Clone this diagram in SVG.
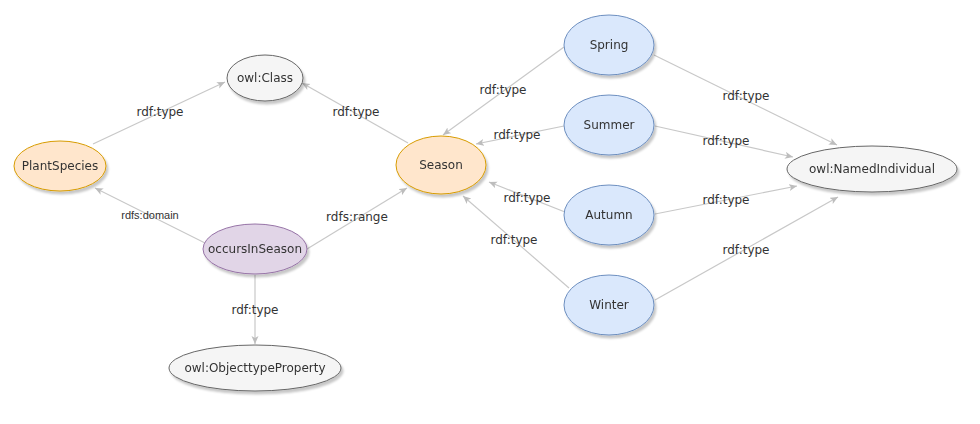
<svg xmlns="http://www.w3.org/2000/svg" width="980" height="424" viewBox="0 0 980 424">
<style>
  .lbl{font-family:"DejaVu Sans",Verdana,sans-serif;font-size:12px;fill:#333;text-anchor:middle}
  .sm{font-family:"Liberation Sans",Arial,sans-serif;font-size:11px;fill:#333;text-anchor:middle}
  .edge{stroke:#c8c8c8;stroke-width:1.2;fill:none;marker-end:url(#arr)}
  .owl{fill:#f5f5f5;stroke:#666;stroke-width:1}
  .cls{fill:#ffe6cc;stroke:#d79b00;stroke-width:1}
  .prop{fill:#e1d5e7;stroke:#9673a6;stroke-width:1}
  .ind{fill:#dae8fc;stroke:#6c8ebf;stroke-width:1}
  .node{filter:url(#sh)}
</style>
<defs>
  <marker id="arr" markerUnits="userSpaceOnUse" markerWidth="10" markerHeight="8" refX="8" refY="3.5" orient="auto">
    <path d="M0,0 L8,3.5 L0,7 L2,3.5 z" fill="#bdbdbd"/>
  </marker>
  <filter id="sh" x="-20%" y="-20%" width="150%" height="160%">
    <feDropShadow dx="2" dy="3" stdDeviation="1.2" flood-color="#000" flood-opacity="0.22"/>
  </filter>
</defs>
<rect width="980" height="424" fill="#fff"/>
<g id="connectors">
  <line class="edge" x1="93" y1="144" x2="225" y2="82"/>
  <line class="edge" x1="408" y1="143" x2="302" y2="83"/>
  <line class="edge" x1="205" y1="243" x2="95" y2="188"/>
  <line class="edge" x1="307" y1="249" x2="407" y2="188"/>
  <line class="edge" x1="255" y1="275" x2="255" y2="344"/>
  <line class="edge" x1="564" y1="47" x2="443" y2="135"/>
  <line class="edge" x1="564" y1="126" x2="476" y2="144"/>
  <line class="edge" x1="565" y1="212" x2="489" y2="182"/>
  <line class="edge" x1="569" y1="288" x2="463" y2="196"/>
  <line class="edge" x1="654" y1="55" x2="837" y2="145"/>
  <line class="edge" x1="655" y1="126" x2="793" y2="157"/>
  <line class="edge" x1="655" y1="214" x2="797" y2="186"/>
  <line class="edge" x1="655" y1="300" x2="838" y2="197"/>
  <text class="lbl" x="160" y="116">rdf:type</text>
  <text class="lbl" x="356" y="116">rdf:type</text>
  <text class="sm" x="150" y="219">rdfs:domain</text>
  <text class="lbl" x="357" y="221">rdfs:range</text>
  <text class="lbl" x="255" y="314">rdf:type</text>
  <text class="lbl" x="503" y="94">rdf:type</text>
  <text class="lbl" x="517" y="139">rdf:type</text>
  <text class="lbl" x="527" y="202">rdf:type</text>
  <text class="lbl" x="514" y="244">rdf:type</text>
  <text class="lbl" x="746" y="100">rdf:type</text>
  <text class="lbl" x="726" y="145">rdf:type</text>
  <text class="lbl" x="726" y="204">rdf:type</text>
  <text class="lbl" x="746" y="254">rdf:type</text>
</g>
<g id="owlClass" class="node"><ellipse class="owl" cx="265" cy="78" rx="38" ry="23"/><text class="lbl" x="265" y="82">owl:Class</text></g>
<g id="PlantSpecies" class="node"><ellipse class="cls" cx="60" cy="166" rx="46" ry="25"/><text class="lbl" x="60" y="170">PlantSpecies</text></g>
<g id="Season" class="node"><ellipse class="cls" cx="441" cy="165" rx="45" ry="29"/><text class="lbl" x="441" y="169">Season</text></g>
<g id="occursInSeason" class="node"><ellipse class="prop" cx="255" cy="249" rx="52" ry="25"/><text class="lbl" x="255" y="253">occursInSeason</text></g>
<g id="owlObjecttypeProperty" class="node"><ellipse class="owl" cx="255" cy="368" rx="86" ry="23"/><text class="lbl" x="255" y="372">owl:ObjecttypeProperty</text></g>
<g id="Spring" class="node"><ellipse class="ind" cx="609" cy="45" rx="45" ry="30"/><text class="lbl" x="609" y="49">Spring</text></g>
<g id="Summer" class="node"><ellipse class="ind" cx="609" cy="125" rx="45" ry="30"/><text class="lbl" x="609" y="129">Summer</text></g>
<g id="Autumn" class="node"><ellipse class="ind" cx="609" cy="215" rx="45" ry="30"/><text class="lbl" x="609" y="219">Autumn</text></g>
<g id="Winter" class="node"><ellipse class="ind" cx="609" cy="305" rx="45" ry="30"/><text class="lbl" x="609" y="309">Winter</text></g>
<g id="owlNamedIndividual" class="node"><ellipse class="owl" cx="872" cy="169" rx="85" ry="23"/><text class="lbl" x="872" y="173">owl:NamedIndividual</text></g>
</svg>
